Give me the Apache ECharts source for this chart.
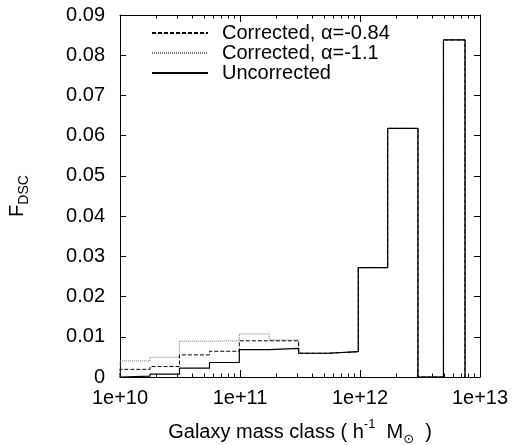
<!DOCTYPE html>
<html>
<head>
<meta charset="utf-8">
<script src="https://cdn.jsdelivr.net/npm/echarts@6/dist/echarts.min.js"></script>
<style>html,body{margin:0;padding:0;background:#fff}#c{width:516px;height:445px}</style>
</head>
<body>
<div id="c"></div>
<script>
// Bin edges (galaxy mass, h^-1 Msun)
const binEdges = [1e10, 1.78e10, 3.13e10, 5.57e10, 9.87e10, 1.75e11, 3.08e11, 5.45e11, 9.68e11, 1.70e12, 3.04e12, 4.96e12, 7.5e12];
// F_DSC per bin
const corrected084 = [0.0019, 0.0026, 0.0055, 0.0064, 0.0090, 0.0090, 0.0059, 0.0063, 0.0272, 0.0618, 0, 0.0838];
const corrected11  = [0.0040, 0.0049, 0.0089, 0.0090, 0.0107, 0.0092, 0.0059, 0.0063, 0.0272, 0.0618, 0, 0.0838];
const uncorrected  = [0.0002, 0.0007, 0.0022, 0.0036, 0.0068, 0.0071, 0.0059, 0.0063, 0.0272, 0.0618, 0, 0.0838];
const seriesNames = ['Corrected, α=-0.84', 'Corrected, α=-1.1', 'Uncorrected'];
const xMajorTicks = [1e10, 1e11, 1e12, 1e13];
const xMinorTicks = [];
for (let n = 10; n <= 12; n++) for (let k = 2; k <= 9; k++) xMinorTicks.push(k * Math.pow(10, n));

function steps(vals) {
  const pts = [[binEdges[0], 0]];
  for (let i = 0; i < vals.length; i++) {
    pts.push([binEdges[i], vals[i]]);
    pts.push([binEdges[i + 1], vals[i]]);
  }
  pts.push([binEdges[binEdges.length - 1], 0]);
  return pts;
}

const FONT = '"Liberation Sans", Arial, "DejaVu Sans", sans-serif';
const black = '#000';
function xAx(pos, ticks, len, labels, line) {
  return {
    type: 'log', logBase: 10, min: 1e10, max: 1e13, position: pos,
    axisLine: { show: line, lineStyle: { color: black, width: 1 } },
    axisTick: { show: true, inside: true, length: len, customValues: ticks, lineStyle: { color: black } },
    axisLabel: { show: labels, customValues: labels ? ticks : undefined, margin: 11,
      formatter: v => '1e+' + Math.round(Math.log10(v)), color: black, fontSize: 20, fontFamily: FONT },
    splitLine: { show: false },
    minorTick: { show: false }
  };
}
function yAx(pos, labels) {
  return {
    type: 'value', min: 0, max: 0.09, interval: 0.01, position: pos,
    axisLine: { show: true, lineStyle: { color: black, width: 1 } },
    axisTick: { show: true, inside: true, length: 6, lineStyle: { color: black } },
    axisLabel: { show: labels, margin: 15, color: black, fontSize: 20, fontFamily: FONT,
      formatter: v => v === 0 ? '0' : v.toFixed(2) },
    splitLine: { show: false }
  };
}

const chart = echarts.init(document.getElementById('c'), null, { renderer: 'canvas' });
const xa0 = xAx('bottom', xMajorTicks, 7, true, true);
xa0.name = '{n|Galaxy mass class ( h}{sup|-1}{n|  M}{sub|⊙}{n|  )}';
xa0.nameLocation = 'middle';
xa0.nameGap = 41;
xa0.nameTextStyle = { rich: {
  n: { fontSize: 20, fontFamily: FONT, color: black, lineHeight: 28, verticalAlign: 'middle' },
  sup: { fontSize: 13, fontFamily: FONT, color: black, lineHeight: 28, verticalAlign: 'top' },
  sub: { fontSize: 13, fontFamily: FONT, color: black, lineHeight: 28, verticalAlign: 'bottom' }
} };
const ya0 = yAx('left', true);
ya0.name = '{n|F}{sub|DSC}';
ya0.nameLocation = 'middle';
ya0.nameRotate = 90;
ya0.nameGap = 89;
ya0.nameTextStyle = { rich: {
  n: { fontSize: 20, fontFamily: FONT, color: black, lineHeight: 28, verticalAlign: 'middle' },
  sub: { fontSize: 14, fontFamily: FONT, color: black, lineHeight: 28, verticalAlign: 'bottom' }
} };

const option = {
  animation: false,
  backgroundColor: '#fff',
  grid: { left: 120, right: 36, top: 15, bottom: 68, containLabel: false, outerBoundsMode: 'none' },
  legend: {
    orient: 'vertical', left: 146, top: 18, itemWidth: 56, itemHeight: 20, itemGap: 0,
    data: seriesNames,
    itemStyle: { opacity: 0 },
    textStyle: { color: black, fontSize: 20, fontFamily: FONT, lineHeight: 20, padding: [0, 0, 0, 9] }
  },
  xAxis: [
    xa0,
    xAx('bottom', xMinorTicks, 3.5, false, false),
    xAx('top', xMajorTicks, 7, false, true),
    xAx('top', xMinorTicks, 3.5, false, false)
  ],
  yAxis: [ya0, yAx('right', false)],
  series: [
    { name: seriesNames[0], type: 'line', data: steps(corrected084), symbol: 'none', showSymbol: false,
      lineStyle: { color: '#000', width: 1, type: [4, 2] }, itemStyle: { color: '#000' }, z: 3 },
    { name: seriesNames[1], type: 'line', data: steps(corrected11), symbol: 'none', showSymbol: false,
      lineStyle: { color: '#777', width: 1, type: [1, 1] }, itemStyle: { color: '#777' }, z: 2 },
    { name: seriesNames[2], type: 'line', data: steps(uncorrected), symbol: 'none', showSymbol: false,
      lineStyle: { color: '#000', width: 1.2, type: 'solid' }, itemStyle: { color: '#000' }, z: 4 }
  ]
};
chart.setOption(option);
</script>
</body>
</html>
